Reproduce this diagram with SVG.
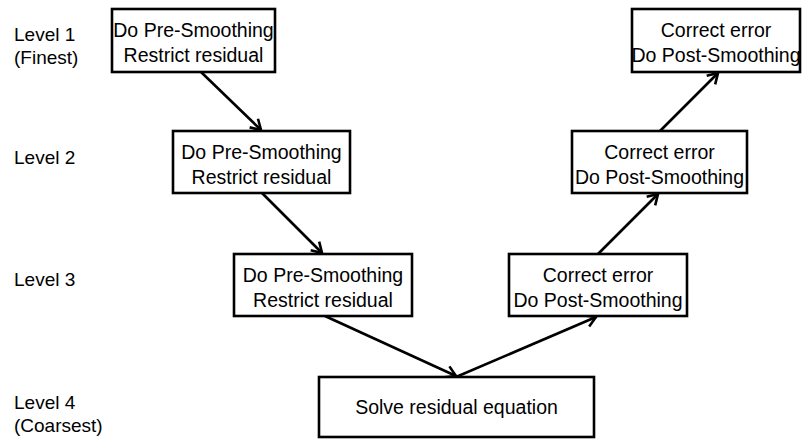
<svg xmlns="http://www.w3.org/2000/svg" width="802" height="439" viewBox="0 0 802 439">
  <style>
    .box { fill: #ffffff; stroke: #000000; stroke-width: 2.6; }
    .txt { font-family: "Liberation Sans", Arial, sans-serif; font-size: 19.5px; fill: #000000; text-anchor: middle; }
    .lvl { font-family: "Liberation Sans", Arial, sans-serif; font-size: 19px; fill: #000000; }
    .edge { stroke: #000000; stroke-width: 2.6; fill: none; marker-end: url(#arrow); }
  </style>
  <defs>
    <marker id="arrow" markerUnits="userSpaceOnUse" markerWidth="16" markerHeight="16" viewBox="-12 -8 16 16" refX="0" refY="0" orient="auto">
      <path d="M-10,-6 L0,0 L-10,6" fill="none" stroke="#000000" stroke-width="2.6" stroke-linejoin="miter"/>
    </marker>
  </defs>
  <rect width="802" height="439" fill="#ffffff"/>

  <!-- level labels -->
  <g id="levels">
    <text class="lvl" x="14" y="41">Level 1</text>
    <text class="lvl" x="14" y="64">(Finest)</text>
    <text class="lvl" x="14" y="164">Level 2</text>
    <text class="lvl" x="14" y="286">Level 3</text>
    <text class="lvl" x="14" y="409">Level 4</text>
    <text class="lvl" x="14" y="432">(Coarsest)</text>
  </g>

  <!-- connectors -->
  <g id="connectors">
    <line class="edge" x1="201" y1="72" x2="261" y2="130"/>
    <line class="edge" x1="262" y1="193" x2="322" y2="253"/>
    <line class="edge" x1="325" y1="316" x2="456" y2="376"/>
    <line class="edge" x1="456" y1="377" x2="596" y2="317"/>
    <line class="edge" x1="598" y1="254" x2="658" y2="194"/>
    <line class="edge" x1="660" y1="131" x2="718" y2="73"/>
  </g>

  <g id="pre1">
    <rect class="box" x="112" y="9" width="163" height="63"/>
    <text class="txt" x="193.5" y="37">Do Pre-Smoothing</text>
    <text class="txt" x="193.5" y="62">Restrict residual</text>
  </g>
  <g id="pre2">
    <rect class="box" x="173" y="131" width="177" height="62"/>
    <text class="txt" x="261.5" y="159">Do Pre-Smoothing</text>
    <text class="txt" x="261.5" y="184">Restrict residual</text>
  </g>
  <g id="pre3">
    <rect class="box" x="234" y="254" width="178" height="62"/>
    <text class="txt" x="323" y="282">Do Pre-Smoothing</text>
    <text class="txt" x="323" y="307">Restrict residual</text>
  </g>
  <g id="solve">
    <rect class="box" x="319" y="377" width="275" height="60"/>
    <text class="txt" x="456.5" y="414">Solve residual equation</text>
  </g>
  <g id="post3">
    <rect class="box" x="509" y="254" width="178" height="62"/>
    <text class="txt" x="598" y="282">Correct error</text>
    <text class="txt" x="598" y="307">Do Post-Smoothing</text>
  </g>
  <g id="post2">
    <rect class="box" x="572" y="131" width="175" height="62"/>
    <text class="txt" x="659.5" y="159">Correct error</text>
    <text class="txt" x="659.5" y="184">Do Post-Smoothing</text>
  </g>
  <g id="post1">
    <rect class="box" x="632" y="9" width="168" height="63"/>
    <text class="txt" x="716" y="37">Correct error</text>
    <text class="txt" x="716" y="62">Do Post-Smoothing</text>
  </g>
</svg>
